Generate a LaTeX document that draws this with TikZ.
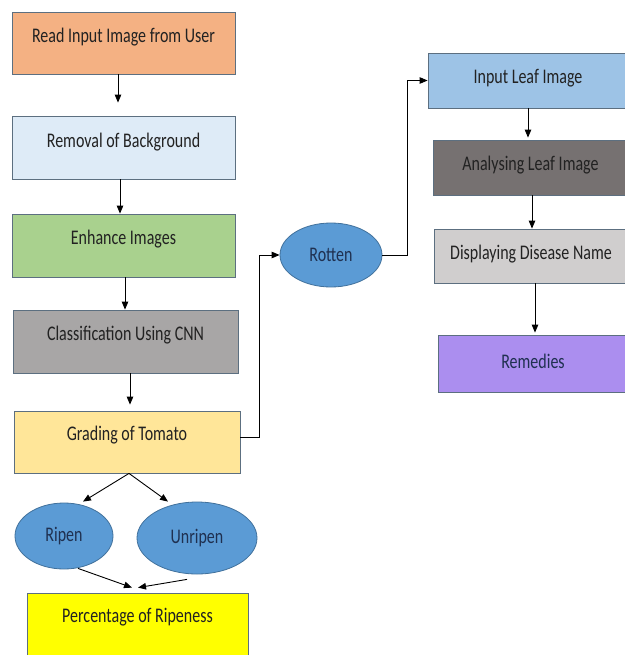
\documentclass[tikz,border=0pt]{standalone}
\usepackage{fontspec}
\usepackage{graphicx}
\setmainfont{Carlito}
\usetikzlibrary{arrows.meta,shapes.geometric}
\definecolor{bord}{HTML}{5C6F80}
\definecolor{txt}{HTML}{222222}
\definecolor{navy}{HTML}{1F3050}
\definecolor{cOrange}{HTML}{F4B183}
\definecolor{cLblue}{HTML}{DEEBF7}
\definecolor{cGreen}{HTML}{A9D18E}
\definecolor{cGray}{HTML}{A8A6A6}
\definecolor{cLyellow}{HTML}{FFE699}
\definecolor{cYellow}{HTML}{FFFF00}
\definecolor{cEll}{HTML}{5B9BD5}
\definecolor{cEllBord}{HTML}{41719C}
\definecolor{cSky}{HTML}{9DC3E6}
\definecolor{cDgray}{HTML}{767171}
\definecolor{cPgray}{HTML}{D0CECE}
\definecolor{cPurple}{HTML}{AB8EEF}
\newcommand{\vtx}[1]{\scalebox{1}[1.3]{#1}}
\newcommand{\vtu}[2]{\raisebox{#1}[\height][\depth]{\scalebox{1}[1.3]{#2}}}
\begin{document}
\begin{tikzpicture}[x=1pt,y=-1pt,
  box/.style={draw=bord, line width=0.8pt, rectangle, inner sep=0pt,
    font=\fontsize{16}{19}\selectfont, text=txt},
  oval/.style={ellipse, draw=cEllBord, fill=cEll, line width=0.8pt, inner sep=0pt,
    font=\fontsize{16}{19}\selectfont, text=navy},
  arr/.style={-{Triangle[length=8pt,width=6.5pt]}, line width=0.9pt, draw=black}]
\useasboundingbox (0,0) rectangle (624,655);
\fill[white] (0,0) rectangle (624,655);

% left column
\node[box, fill=cOrange, minimum width=223pt, minimum height=62pt] (b1) at (123.5,43) {\vtu{6pt}{Read Input Image from User}};
\node[box, fill=cLblue, minimum width=223pt, minimum height=63pt] (b2) at (123.5,147.5) {\vtu{5pt}{Removal of Background}};
\node[box, fill=cGreen, minimum width=223pt, minimum height=63pt] (b3) at (123.5,245.5) {\vtu{6pt}{Enhance Images}};
\node[box, fill=cGray, minimum width=225pt, minimum height=63pt] (b4) at (125.5,341.5) {\vtu{6pt}{Classification Using CNN}};
\node[box, fill=cLyellow, minimum width=226pt, minimum height=62pt] (b5) at (127,442) {\vtu{7pt}{Grading of Tomato}};
\node[box, fill=cYellow, minimum width=221pt, minimum height=70pt] (pct) at (137.5,628) {\vtu{11pt}{Percentage of Ripeness}};

% ellipses
\node[oval, minimum width=98pt, minimum height=66pt] (rip) at (64,536) {\vtx{Ripen}};
\node[oval, minimum width=120pt, minimum height=72pt] (unr) at (197,538) {\vtx{Unripen}};
\node[oval, minimum width=102pt, minimum height=64pt] (rot) at (331,255) {\vtx{Rotten}};

% right column
\node[box, fill=cSky, minimum width=200pt, minimum height=55pt] (r1) at (528,80.5) {\vtu{2pt}{Input Leaf Image}};
\node[box, fill=cDgray, minimum width=195pt, minimum height=55pt] (r2) at (530.5,167.5) {\vtu{2pt}{Analysing Leaf Image}};
\node[box, fill=cPgray, minimum width=194pt, minimum height=54pt] (r3) at (531,256) {\vtu{2pt}{Displaying Disease Name}};
\node[box, fill=cPurple, minimum width=190pt, minimum height=57pt, text=navy] (r4) at (533,363.5) {\vtu{2pt}{Remedies}};

% connectors left column
\draw[arr] ([xshift=-5.5pt]b1.south) -- ([xshift=-5.5pt,yshift=13pt]b2.north);
\draw[arr] ([xshift=-3.5pt]b2.south) -- ([xshift=-3.5pt]b3.north);
\draw[arr] ([xshift=1.5pt]b3.south) -- ([xshift=-0.5pt]b4.north);
\draw[arr] ([xshift=4.5pt]b4.south) -- ([xshift=3pt,yshift=6pt]b5.north);

% to ellipses
\draw[arr] ([xshift=2pt]b5.south) -- ([xshift=19pt,yshift=1pt]rip.north);
\draw[arr] ([xshift=2pt]b5.south) -- ([xshift=-29pt]unr.north);
\draw[arr] ([xshift=14pt,yshift=1pt]rip.south) -- ([xshift=-5.5pt,yshift=5pt]pct.north);
\draw[arr] ([xshift=-10pt,yshift=-5pt]unr.south) -- ([xshift=0.5pt,yshift=5pt]pct.north);

% to rotten and leaf branch
\coordinate (k1) at (259,437);
\draw[arr] ([yshift=5pt]b5.east) -- (k1) |- (rot.west);
\coordinate (k2) at (407,255);
\draw[arr] (rot.east) -- (k2) |- (r1.west);

% right column connectors
\draw[arr] ([xshift=0pt]r1.south) -- ([xshift=-2.5pt,yshift=2pt]r2.north);
\draw[arr] ([xshift=1.5pt]r2.south) -- ([xshift=1pt]r3.north);
\draw[arr] ([xshift=4pt]r3.south) -- ([xshift=2pt,yshift=2pt]r4.north);
\end{tikzpicture}
\end{document}
